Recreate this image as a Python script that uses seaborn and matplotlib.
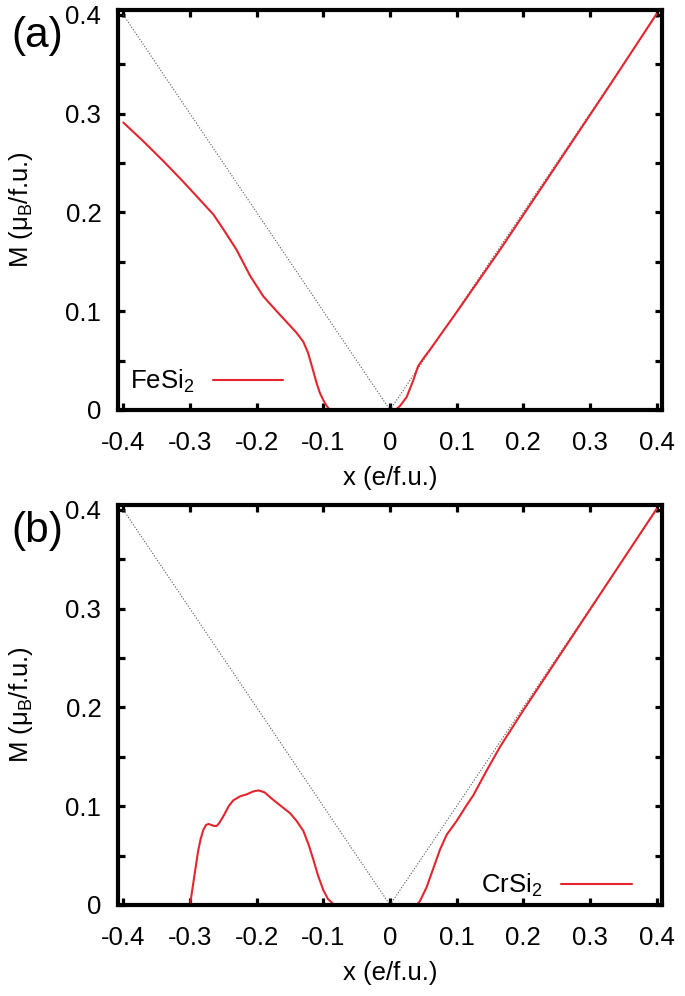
import numpy as np
import pandas as pd
import seaborn as sns
import matplotlib
matplotlib.use("Agg")
import matplotlib.pyplot as plt
from matplotlib.ticker import MultipleLocator

# values
fe_x = [-0.40, -0.37, -0.34, -0.31, -0.28, -0.265, -0.25, -0.23, -0.21, -0.19,
        -0.17, -0.155, -0.14, -0.13, -0.123, -0.117, -0.11, -0.105, -0.10, -0.095,
        -0.09, 0.0, 0.008, 0.015, 0.025, 0.035, 0.042, 0.05, 0.06, 0.10,
        0.165, 0.25, 0.33, 0.40]
fe_m = [0.291, 0.272, 0.252, 0.231, 0.209, 0.198, 0.183, 0.162, 0.136, 0.115,
        0.100, 0.089, 0.078, 0.069, 0.058, 0.044, 0.027, 0.017, 0.010, 0.004,
        0.000, 0.000, 0.000, 0.004, 0.013, 0.030, 0.044, 0.052, 0.061, 0.099,
        0.162, 0.248, 0.329, 0.401]

cr_x = [-0.30, -0.296, -0.292, -0.288, -0.284, -0.280, -0.276, -0.272, -0.268, -0.264,
        -0.260, -0.256, -0.249, -0.242, -0.235, -0.225, -0.215, -0.205, -0.197, -0.188,
        -0.178, -0.165, -0.15, -0.14, -0.13, -0.122, -0.115, -0.108, -0.10, -0.093,
        -0.085, -0.078, 0.04, 0.045, 0.055, 0.065, 0.075, 0.085, 0.10, 0.115,
        0.125, 0.145, 0.165, 0.20, 0.30, 0.40]
cr_m = [0.000, 0.018, 0.036, 0.054, 0.067, 0.076, 0.081, 0.082, 0.081, 0.080,
        0.080, 0.083, 0.091, 0.100, 0.106, 0.110, 0.112, 0.115, 0.116, 0.114,
        0.108, 0.101, 0.093, 0.085, 0.075, 0.061, 0.046, 0.030, 0.015, 0.006,
        0.001, 0.000, 0.000, 0.004, 0.018, 0.037, 0.056, 0.071, 0.085, 0.101,
        0.111, 0.136, 0.160, 0.197, 0.299, 0.401]

# full-moment reference line |x|
ref_x = [-0.4, 0.0, 0.4]
ref_m = [0.4, 0.0, 0.4]

xticks = [-0.4, -0.3, -0.2, -0.1, 0.0, 0.1, 0.2, 0.3, 0.4]
xlabels = ["-0.4", "-0.3", "-0.2", "-0.1", "0", "0.1", "0.2", "0.3", "0.4"]
yticks = [0.0, 0.1, 0.2, 0.3, 0.4]
ylabels = ["0", "0.1", "0.2", "0.3", "0.4"]

panels = [
    ("(a)", "FeSi$_2$", fe_x, fe_m, "center left", (0.022, 0.072)),
    ("(b)", "CrSi$_2$", cr_x, cr_m, "center right", (0.945, 0.048)),
]

sns.set_style("ticks")
plt.rcParams["font.family"] = ["Liberation Sans", "DejaVu Sans"]
plt.rcParams["mathtext.fontset"] = "custom"
plt.rcParams["mathtext.rm"] = "Liberation Sans"
plt.rcParams["mathtext.it"] = "Liberation Sans:italic"
plt.rcParams["axes.unicode_minus"] = False
for k in ["text.color", "axes.labelcolor", "xtick.color", "ytick.color", "axes.edgecolor"]:
    plt.rcParams[k] = "black"

fs = 18.5
fig = plt.figure(figsize=(6.85, 9.96), dpi=100)
boxes = [[0.1723, 0.5884, 0.794, 0.4016], [0.1723, 0.0914, 0.794, 0.4016]]
red = "#e3262e"

for box, (tag, name, xs, ms, loc, anchor) in zip(boxes, panels):
    ax = fig.add_axes(box)
    df = pd.DataFrame({"x": xs, "M": ms})
    sns.lineplot(x=ref_x, y=ref_m, ax=ax, color="#555555", lw=0.8,
                 linestyle=(0, (1, 1.6)), legend=False)
    sns.lineplot(data=df, x="x", y="M", ax=ax, color=red, lw=1.5,
                 label=name, sort=False)
    ax.set_xlim(-0.408, 0.408)
    ax.set_ylim(0, 0.405)
    ax.set_xticks(xticks, xlabels)
    ax.set_yticks(yticks, ylabels)
    ax.yaxis.set_minor_locator(MultipleLocator(0.05))
    ax.tick_params(which="both", direction="in", top=True, right=True,
                   length=5, width=2.3, labelsize=fs)
    ax.tick_params(axis="x", pad=15)
    ax.tick_params(axis="y", pad=12)
    for s in ax.spines.values():
        s.set_linewidth(3)
    ax.set_xlabel("x (e/f.u.)", fontsize=fs, labelpad=8)
    ax.set_ylabel("M (μ$_\\mathrm{B}$/f.u.)", fontsize=fs, labelpad=22)
    ax.legend(loc=loc, bbox_to_anchor=anchor, frameon=False, markerfirst=False,
              fontsize=fs, handlelength=2.75, handletextpad=0.72, borderpad=0,
              borderaxespad=0)
    fig.text(0.017, box[1] + box[3] - 0.026, tag, fontsize=30.5, va="center", ha="left")

fig.savefig("out.png", dpi=100)
